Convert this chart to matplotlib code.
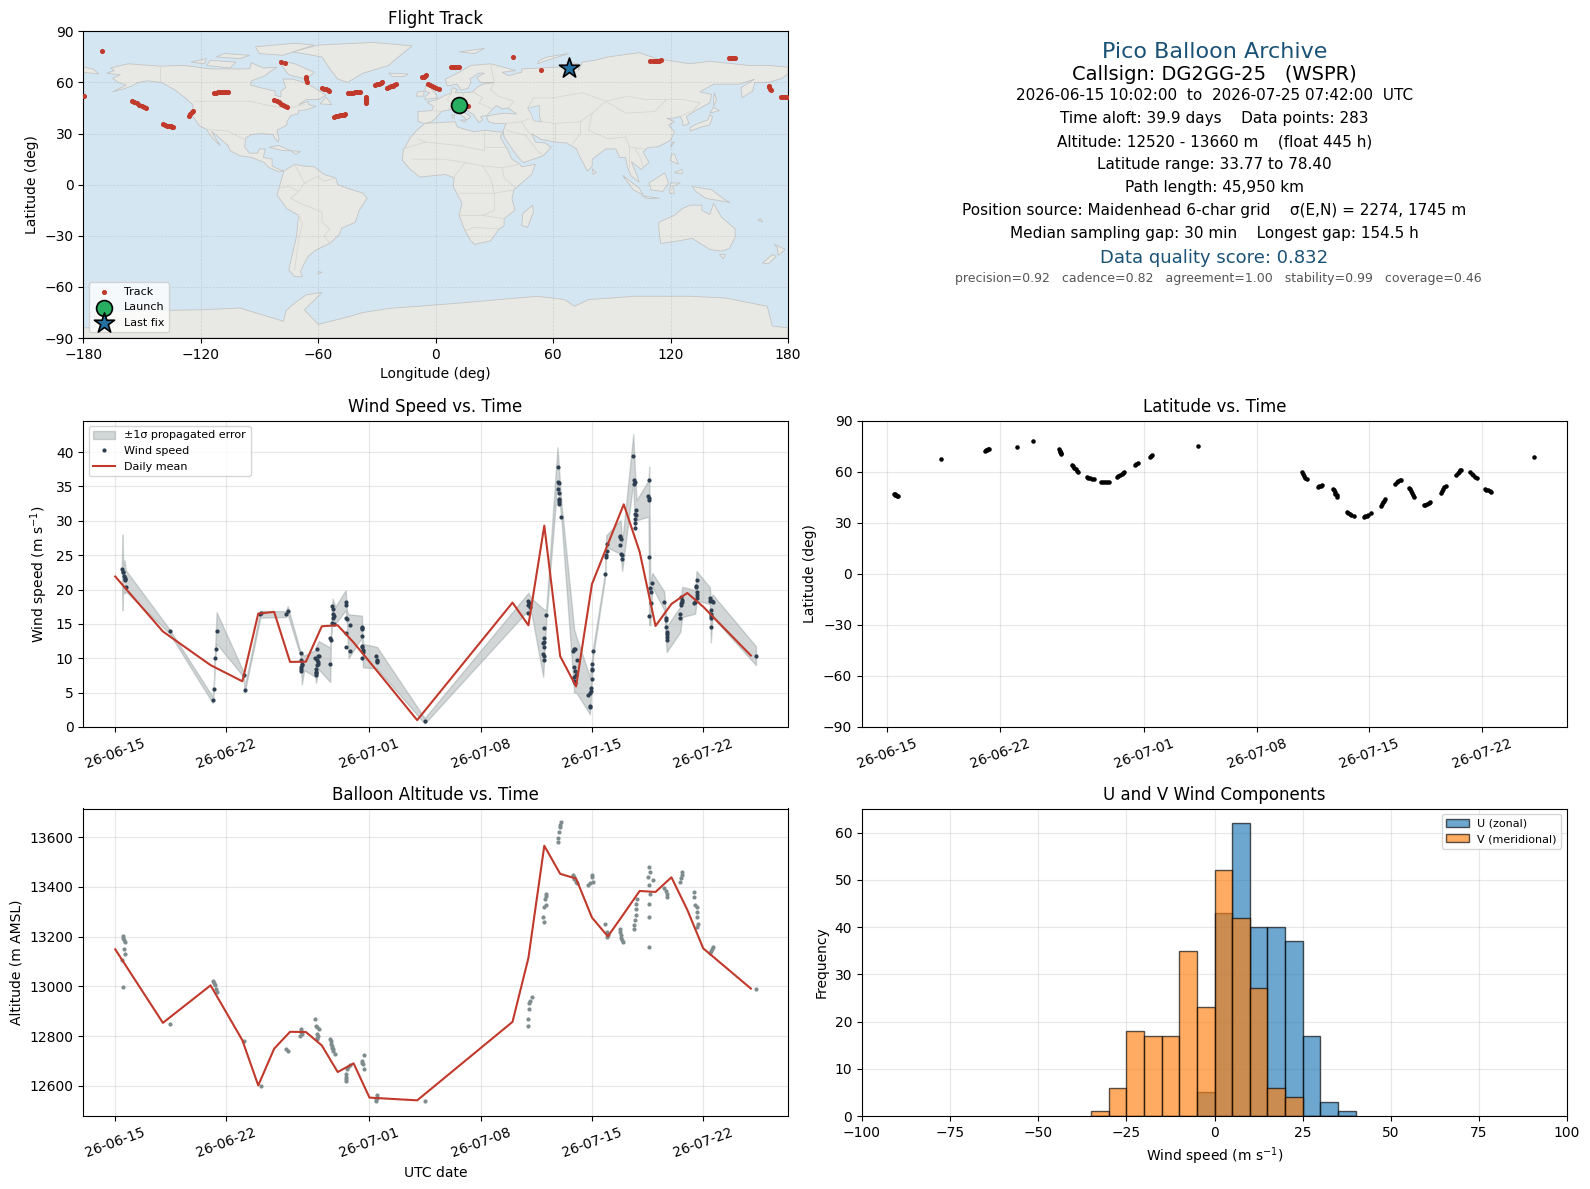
import datetime as dt

import matplotlib
matplotlib.use('Agg')
import matplotlib.dates as mdates
import matplotlib.pyplot as plt

# all times are days since 2026-06-15 00:00 UTC
day_bins = [0, 3, 6, 8, 9, 10, 11, 12, 13, 14, 15, 16, 19, 25, 26, 27, 28, 29, 30, 31, 32, 33, 34, 35, 36, 37, 40]
wind_daily = [21.9, 13.9, 9.0, 6.65, 16.5, 16.75, 9.47, 9.5, 14.66, 14.8, 12.3, 9.5, 1.0, 18.1, 14.8, 29.3, 10.3,
              5.9, 20.8, 26.6, 32.4, 25.5, 14.7, 17.9, 19.5, 17.5, 10.4]
alt_daily = [13149, 12853, 13004, 12783, 12601, 12749, 12817, 12816, 12762, 12655, 12690, 12552, 12541, 12857,
             13114, 13566, 13453, 13434, 13277, 13201, 13292, 13384, 13380, 13439, 13308, 13153, 12991]

wind_time = [0.42, 0.46, 0.50, 0.57, 0.59, 0.60, 0.62, 0.65, 3.42, 6.13, 6.21, 6.25, 6.31, 6.38, 8.08, 8.14, 9.13, 9.15,
             10.74, 10.85, 11.66, 11.72, 11.74, 11.76, 11.72, 11.70, 11.68,
             12.72, 12.78, 12.82, 12.6, 12.7, 12.74, 12.76, 12.72, 12.66, 12.62, 12.62, 12.64, 13.49, 13.53, 13.55,
             13.66, 13.72, 13.68, 13.76, 13.7, 13.66, 13.76, 14.5, 14.5, 14.55, 14.6, 14.75, 14.53, 14.55, 14.75,
             15.5, 15.5, 15.52, 15.5, 15.52, 15.55, 15.58, 15.6, 15.52, 16.42, 16.5, 16.5, 16.48, 19.47,
             25.99, 26.05, 26.0, 26.1, 26.0, 27.12, 27.0, 27.0, 26.95, 26.93, 26.96, 26.93, 26.96, 26.96,
             27.87, 27.87, 27.92, 27.87, 27.92, 27.94, 27.9, 27.94, 27.92, 28.05,
             28.82, 28.9, 28.95, 29.07, 28.9, 28.93, 28.98, 28.9, 28.85, 28.95,
             30.08, 30.0, 30.0, 30.0, 30.0, 29.97, 29.93, 29.9, 29.78, 29.85, 29.87,
             30.83, 30.9, 30.9, 30.93, 30.95, 31.75, 31.78, 31.8, 31.75, 31.82, 31.87, 31.9,
             32.6, 32.65, 32.68, 32.67, 32.8, 32.7, 32.75, 32.72, 32.7, 32.72,
             33.6, 33.54, 33.56, 33.6, 33.62, 33.8, 33.68, 33.7, 33.72, 33.62,
             34.55, 34.68, 34.65, 34.65, 34.72, 34.7, 34.72, 34.72, 35.6, 35.65, 35.66, 35.62, 35.6, 35.55, 35.55,
             36.63, 36.57, 36.55, 36.58, 36.6, 36.58, 36.5, 36.45,
             37.4, 37.45, 37.55, 37.6, 37.48, 37.48, 37.5, 37.5, 37.5, 40.32]
wind_speed = [23.0, 22.6, 22.5, 22.0, 21.7, 21.5, 21.4, 20.4, 13.9, 4.0, 5.6, 10.0, 11.4, 13.9, 7.6, 5.4, 16.5, 16.6,
              16.5, 16.9, 10.7, 9.7, 9.2, 9.0, 8.7, 8.5, 8.2,
              11.3, 10.4, 10.3, 10.0, 9.8, 9.5, 9.2, 9.0, 8.5, 8.0, 7.8, 7.6, 9.1, 13.0, 12.7,
              17.6, 17.2, 16.5, 16.1, 15.8, 15.1, 15.0, 18.2, 17.7, 15.8, 15.7, 14.8, 13.7, 11.6, 11.0,
              14.6, 14.4, 14.2, 13.3, 11.8, 11.6, 11.2, 10.9, 10.1, 10.4, 9.8, 9.6, 9.4, 0.9,
              18.35, 18.06, 17.7, 17.5, 16.65, 16.36, 14.47, 13.0, 12.4, 12.2, 11.7, 10.6, 10.3, 9.8,
              37.9, 35.6, 35.5, 34.6, 34.0, 33.2, 33.0, 32.8, 32.5, 30.6,
              11.0, 11.3, 11.4, 9.8, 8.7, 8.2, 7.5, 7.3, 6.65, 6.4,
              11.0, 9.1, 8.5, 8.35, 7.0, 5.7, 5.3, 5.0, 4.6, 3.06, 2.96,
              22.2, 24.7, 25.0, 25.6, 26.7, 27.8, 27.6, 27.3, 26.55, 25.2, 25.1, 24.5,
              39.5, 36.0, 35.7, 35.4, 31.6, 31.0, 30.8, 30.3, 29.7, 28.9,
              35.9, 33.6, 33.25, 33.0, 24.7, 21.0, 20.2, 19.6, 18.1, 16.1,
              18.25, 15.8, 15.5, 14.5, 13.8, 13.5, 13.1, 12.7, 18.9, 18.5, 18.2, 18.0, 17.7, 16.4, 15.8,
              21.4, 20.5, 20.3, 19.7, 19.2, 18.7, 18.2, 18.0,
              18.7, 18.4, 18.35, 18.2, 17.0, 16.5, 16.1, 15.8, 14.5, 10.4]

# outline of the +-1 sigma band
band_time = [0.42, 0.46, 0.50, 0.58, 0.67, 3.42, 6.13, 6.2, 6.27, 6.38, 8.08, 8.14, 9.13, 10.74, 10.85, 11.66, 11.74,
             11.89, 12.59, 12.63, 12.8, 13.53, 13.57, 13.68, 13.85, 14.5, 14.58, 14.68, 15.52, 15.59, 16.47, 19.47,
             25.99, 26.2, 26.93, 27.12, 27.83, 28.08, 28.88, 29.02, 29.87, 30.08, 30.83, 30.9, 31.8, 31.9, 32.6, 32.7,
             32.8, 33.56, 33.6, 33.67, 33.8, 34.55, 34.7, 35.55, 35.68, 36.5, 36.58, 37.42, 37.48, 37.58, 40.32]
band_low = [21.5, 17.0, 20.5, 19.4, 19.7, 13.6, 3.5, 5.3, 9.5, 12.1, 7.3, 5.0, 15.9, 16.0, 16.4, 10.3, 6.2,
            8.25, 7.3, 6.4, 8.4, 6.55, 12.4, 16.0, 15.0, 17.0, 15.0, 10.0, 13.0, 8.7, 8.5, 0.5,
            17.0, 16.5, 7.3, 15.5, 35.7, 30.1, 5.0, 5.0, 1.85, 10.4, 21.8, 26.2, 25.2, 22.7, 35.7, 29.1,
            30.1, 30.6, 14.8, 14.8, 20.4, 17.0, 10.9, 13.8, 16.0, 16.5, 18.4, 17.9, 12.3, 16.0, 9.0]
band_high = [24.0, 28.0, 23.5, 24.3, 22.8, 14.2, 4.4, 6.1, 10.5, 16.7, 8.0, 5.8, 16.9, 16.85, 17.6, 10.9, 10.7,
             10.4, 11.2, 11.65, 12.5, 11.55, 13.6, 18.7, 17.5, 19.9, 17.0, 16.4, 16.2, 12.1, 11.65, 1.3,
             19.5, 18.7, 17.2, 17.0, 40.7, 32.5, 14.2, 13.1, 7.3, 11.65, 22.6, 27.9, 30.1, 26.9, 42.6, 37.4,
             33.0, 35.9, 37.9, 20.9, 22.4, 19.7, 14.6, 17.5, 20.4, 19.9, 22.7, 20.3, 18.2, 19.3, 11.75]

alt_time = [0.46, 0.52, 0.56, 0.6, 0.58, 0.64, 0.42, 0.46, 3.42, 6.13, 6.2, 6.27, 6.33, 6.4, 8.12, 9.15, 10.74, 10.85,
            11.7, 11.66, 11.72, 11.78, 11.64, 12.6, 12.66, 12.72, 12.8, 12.7, 12.74, 12.72, 12.7,
            13.5, 13.56, 13.6, 13.66, 13.62, 13.7, 13.72, 13.85, 14.75, 14.65, 14.6, 14.55, 14.52, 14.5, 14.53,
            15.63, 15.5, 15.52, 15.6, 15.63, 16.5, 16.48, 16.44, 16.42, 19.47,
            26.2, 26.1, 26.03, 26.05, 25.99, 25.99, 27.12, 27.08, 27.02, 27.1, 27.0, 26.93, 26.95,
            28.02, 27.97, 27.96, 27.92, 27.88, 27.87, 28.82, 28.85, 28.9, 29.0, 29.07, 30.02, 30.0, 30.08, 29.9, 29.78,
            30.83, 30.95, 30.98, 30.92, 31.75, 31.78, 31.82, 31.85, 31.9, 31.96,
            32.64, 32.66, 32.7, 32.74, 32.78, 32.78, 32.85, 33.6, 33.66, 33.54, 33.81, 33.56, 33.68, 33.6, 33.62, 33.62,
            34.55, 34.66, 34.72, 34.7, 35.68, 35.65, 35.6, 35.53,
            36.43, 36.45, 36.5, 36.58, 36.6, 36.63, 36.68, 36.58, 37.63, 37.55, 37.48, 37.4, 40.32]
alt_value = [13201, 13194, 13185, 13177, 13150, 13130, 13107, 12998, 12849, 13020, 13014, 13007, 12991, 12977, 12781, 12600, 12749, 12741,
             12829, 12822, 12817, 12810, 12802, 12869, 12842, 12836, 12829, 12809, 12802, 12793, 12786,
             12789, 12779, 12766, 12759, 12753, 12746, 12739, 12729, 12682, 12675, 12668, 12646, 12636, 12625, 12619,
             12722, 12699, 12692, 12686, 12668, 12561, 12552, 12545, 12538, 12540,
             12957, 12940, 12933, 12909, 12869, 12840, 13371, 13362, 13352, 13328, 13319, 13279, 13259,
             13660, 13649, 13640, 13623, 13599, 13580, 13449, 13439, 13431, 13422, 13415, 13449, 13439, 13422, 13415, 13406,
             13251, 13217, 13208, 13198, 13230, 13217, 13205, 13194, 13185, 13177,
             13230, 13248, 13268, 13288, 13311, 13331, 13352, 13479, 13459, 13439, 13429, 13409, 13371, 13331, 13279, 13158,
             13395, 13384, 13372, 13359, 13462, 13449, 13435, 13422,
             13379, 13359, 13328, 13319, 13299, 13279, 13251, 13238, 13158, 13150, 13143, 13134, 12991]

lat_time = [0.42, 0.46, 0.5, 0.55, 0.6, 0.65, 3.36, 6.05, 6.13, 6.2, 6.28, 6.35, 8.05, 9.05,
            10.68, 10.72, 10.76, 10.8, 10.83, 11.48, 11.56, 11.64, 11.72, 11.8, 11.9,
            12.42, 12.52, 12.62, 12.72, 12.85, 13.3, 13.42, 13.55, 13.68, 13.8,
            14.28, 14.38, 14.48, 14.58, 14.68, 14.75, 15.42, 15.5, 15.58, 16.38, 16.43, 16.48, 19.37,
            25.82, 25.88, 25.95, 26.03, 26.12, 26.82, 26.9, 26.98, 27.06,
            27.75, 27.8, 27.85, 27.9, 27.97, 28.02, 28.62, 28.7, 28.78, 28.88, 29.05,
            29.65, 29.75, 29.85, 29.95, 30.1, 30.72, 30.78, 30.84, 30.9, 30.97,
            31.6, 31.7, 31.8, 31.9, 31.98, 32.5, 32.56, 32.62, 32.68, 32.74, 32.8,
            33.42, 33.5, 33.6, 33.7, 33.78, 34.45, 34.52, 34.6, 34.68, 34.78,
            35.42, 35.5, 35.58, 35.66, 35.7, 36.3, 36.38, 36.47, 36.56, 36.7,
            37.2, 37.3, 37.4, 37.5, 37.6, 40.27]
lat_value = [47.0, 46.8, 46.5, 46.1, 45.9, 45.7, 67.6, 71.9, 72.4, 72.7, 73.0, 73.3, 74.7, 78.2,
             73.0, 72.2, 71.5, 70.8, 70.2, 63.8, 63.0, 62.2, 61.3, 60.6, 60.0,
             57.0, 56.5, 56.0, 55.8, 55.4, 54.0, 53.8, 53.8, 53.8, 54.0,
             56.8, 57.4, 58.0, 58.6, 59.2, 59.6, 63.8, 64.3, 65.0, 68.4, 69.2, 69.9, 75.2,
             59.5, 58.5, 57.5, 56.4, 55.4, 51.0, 51.4, 51.8, 52.2,
             50.0, 49.0, 48.0, 47.0, 46.0, 45.0, 36.0, 35.5, 35.0, 34.5, 33.9,
             33.4, 33.7, 34.2, 34.7, 35.6, 39.8, 41.0, 42.0, 43.0, 43.8,
             53.0, 53.7, 54.3, 54.9, 55.2, 50.5, 49.5, 48.5, 47.5, 46.2, 45.0,
             40.2, 40.5, 40.8, 41.4, 42.0, 47.6, 48.7, 49.8, 50.7, 51.6,
             58.0, 59.0, 59.9, 60.8, 61.0, 59.5, 58.8, 57.8, 57.0, 56.0,
             50.0, 49.4, 48.9, 48.4, 47.8, 68.8]

track_lon = [-170.6, -179.5, 176.5, 177.5, 178.5, 179.5,
             -155, -153.8, -152.6, -151.4, -150.2, -149, -148, -139, -138, -137, -136, -135, -134.5, -134,
             -126, -125.3, -124.6, -124, -113, -112, -111, -110, -109, -108, -107, -106,
             -82.3, -81, -80, -79, -78, -77, -76, -78.8, -77, -66.3, -66, -65.7, -58, -57, -56, -55, -54.2,
             -45, -44, -43, -42, -41, -40, -39, -38.6, -52, -51, -50, -49, -48, -47, -46.5,
             -35.7, -35.6, -35.6, -35.7, -35.7, -31, -30, -29, -28, -27.3, -25, -24, -23, -22, -21, -20,
             -6.7, -6, -5.3, -4.7, 8, 9, 10, 11, 12, -3.9, -2.8, -1.8, -0.8, 0.3, 1.5, 14.5, 16.5, 39.4, 54,
             109.7, 111, 112, 113, 114, 115, 150, 151, 152, 152.8, 170.2, 170.5, 170.8, 171.2]
track_lat = [78.3, 51.9, 51.3, 51.3, 51.3, 51.3,
             49.3, 48.6, 47.8, 47, 46.3, 45.6, 44.9, 35.5, 35, 34.4, 34.6, 34.6, 34, 33.8,
             40.5, 41.5, 42.5, 43.5, 53.7, 54.1, 54.4, 54.5, 54.6, 54.6, 54.6, 54.6,
             50, 49.2, 48.3, 47.5, 46.7, 46, 45.4, 71.8, 71.2, 63, 61.8, 60.5, 56.8, 56.4, 56, 55.5, 55,
             53.8, 54, 54, 54.1, 54.2, 54.2, 54.2, 54.2, 40, 40.3, 40.6, 40.8, 41, 41.2, 41.3,
             51.3, 50.5, 49.8, 49, 48.2, 58.5, 59, 59.4, 59.8, 60, 57, 57.4, 57.8, 58.2, 58.6, 59,
             63, 63.5, 64, 64.4, 68.9, 68.9, 68.9, 68.9, 68.9, 59, 58.4, 57.8, 57.3, 56.6, 56, 47, 46.3, 74.8, 67.1,
             72.4, 72.5, 72.7, 72.8, 72.9, 73, 74.2, 74.2, 74.2, 74.2, 58.2, 57.3, 56.4, 55.6]
launch_lon, launch_lat = [12.0], [46.6]
last_lon, last_lat = [68.0], [68.7]

# rough coastlines, (lon, lat)
north_america = [(-168, 65.5), (-164, 67), (-166, 68.5), (-157, 71), (-141, 69.6), (-128, 70), (-115, 68), (-108, 68),
                 (-95, 68), (-94, 71.5), (-88, 68.5), (-81, 69), (-85, 66), (-87, 64), (-94, 61), (-94.5, 58.5),
                 (-88, 56.5), (-82, 55), (-82, 52.5), (-79, 51.5), (-79, 55), (-76.5, 57), (-78, 62), (-73, 62),
                 (-70, 61), (-65, 59), (-62, 57), (-56, 52.5), (-60, 50), (-66, 50), (-70, 47), (-65, 49), (-65, 47),
                 (-61, 46), (-66, 44), (-70, 43.5), (-70, 41.7), (-74, 40.5), (-76, 37), (-76, 35), (-81, 32), (-80, 27),
                 (-80.5, 25.2), (-82, 27), (-83, 29.5), (-89, 30), (-94, 29.5), (-97, 27.5), (-97.5, 22), (-95, 18.5),
                 (-91, 18.5), (-90, 21), (-87, 21), (-88, 16), (-83.5, 15), (-83.5, 11), (-80, 9), (-77.5, 8),
                 (-80, 7.5), (-85, 10), (-87.5, 13), (-94, 16), (-100, 17), (-105, 20), (-106, 23), (-112, 29),
                 (-114.5, 31.5), (-112, 26.5), (-110, 23), (-112, 25), (-115, 29), (-117, 32.5), (-120.5, 34.5),
                 (-124, 40), (-124, 47), (-128, 51), (-133, 55.5), (-140, 60), (-147, 61), (-152, 60), (-155, 58),
                 (-160, 56), (-165, 54.5), (-158, 58.5), (-162, 60), (-165, 62.5), (-161, 64.5)]
south_america = [(-77.5, 8), (-72, 12), (-68, 11), (-62, 10.5), (-57, 6), (-51, 4), (-50, 0), (-44, -2.5), (-37, -5),
                 (-35, -8), (-39, -15), (-41, -22), (-48, -25.5), (-49, -29), (-54, -34.5), (-57, -36), (-62, -39),
                 (-65, -42), (-67, -46), (-69, -51), (-68, -54), (-72, -54), (-75, -50), (-73, -40), (-71, -30),
                 (-70, -18), (-76, -14), (-81, -6), (-80, -2), (-79, 2)]
eurasia = [(-9, 37), (-9, 43), (-2, 43.5), (-1, 46), (-4.5, 48.5), (1, 50), (4, 52), (8, 54), (8.5, 57), (11, 56),
           (10, 54), (14, 54), (19, 54.5), (21, 57), (24, 59), (30, 60), (23, 60), (21, 63), (25, 65.5), (22, 65.5),
           (17.5, 62), (18, 60), (16.5, 56.5), (13, 55.5), (11, 59), (6, 58), (5, 62), (12, 66), (18, 70), (28, 71),
           (41, 67), (34, 66), (37, 64), (44, 66), (44, 68), (54, 68.5), (60, 69), (68, 69), (67, 72), (73, 71), (73, 67),
           (75, 72), (81, 73), (88, 75), (104, 77.5), (113, 74), (130, 71), (140, 72.5), (160, 70), (170, 70), (180, 69),
           (180, 65), (177, 62.5), (170, 60), (163, 60), (162, 55), (156.5, 51), (156, 57), (163, 62), (155, 59),
           (142, 59), (135, 54.5), (141, 53), (140, 48), (132, 43), (128, 40), (129.5, 36), (126.5, 34.5), (126, 37.5),
           (125, 40), (121, 39), (118, 39), (122, 37), (119, 35), (122, 31), (120, 26), (114, 22.5), (108, 21.5),
           (106, 19), (109, 13), (105, 9), (100, 13.5), (103, 5), (104, 1.5), (100, 5), (98, 10), (97, 16), (94, 16),
           (92, 21), (87, 21), (80, 15), (80, 11), (77.5, 8), (73, 18), (72, 21), (67, 24.5), (61, 25), (57, 26),
           (54, 26.5), (49, 30), (51, 25), (56, 24.5), (59, 22), (55, 17), (45, 13), (43, 15), (39, 21), (35, 28),
           (34.5, 31.5), (36, 36), (30, 36), (27, 37), (26, 40), (29, 41), (35, 42), (41.5, 41.5), (37, 45), (34, 44.5),
           (31, 46.5), (28, 43), (26.5, 40.8), (23, 40), (24, 38), (22, 36.5), (19.5, 41), (13.5, 45.5), (12.5, 44),
           (18, 40), (16, 38), (12, 42), (9, 44.5), (3, 43), (0, 39), (-2, 37), (-5.5, 36)]
africa = [(-5.5, 36), (10, 37), (11, 34), (15, 32.5), (20, 31), (25, 32), (32, 31), (34.5, 31), (33, 28), (35, 24),
          (37, 20), (39, 15), (43, 12), (44, 10.5), (51, 12), (49, 6), (40, -3), (39, -8), (40.5, -15), (35, -20),
          (35, -24), (32.5, -26), (28, -33), (20, -35), (18, -33), (15, -27), (12, -18), (13.5, -11), (9, -1), (9.5, 4),
          (5, 6), (-4, 5), (-8, 4.5), (-13, 9), (-17, 14.5), (-16.5, 20), (-13, 27.5), (-9.5, 32)]
australia = [(114, -22), (122, -18), (126, -14), (130, -12), (136, -12), (136, -15), (140, -17.5), (142, -11), (146, -19),
             (153, -26), (153, -31), (150, -37.5), (146, -39), (140, -38), (136, -35), (131, -31.5), (124, -33),
             (115, -34.5), (114, -26)]
greenland = [(-73, 78), (-60, 82), (-32, 83.5), (-12, 81.5), (-20, 74), (-24, 70), (-37, 65.5), (-45, 60), (-50, 62),
             (-54, 68), (-58, 75)]
antarctica = [(-180, -84), (-174, -84), (-174, -74.5), (-118.6, -73.4), (-100, -72.4), (-77.7, -80.2), (-76.5, -74),
              (-72, -69.5), (-66, -64.6), (-58, -63.2), (-62.5, -68.5), (-67, -73.4), (-60, -82), (-46, -78), (-37, -75),
              (-23, -72.5), (-9, -71.4), (12, -69.5), (52, -65.5), (66, -67.5), (71, -71.4), (78, -67.5), (101.5, -65.5),
              (130, -65.5), (148, -66.5), (169.4, -71.4), (172, -83), (180, -84), (180, -90), (-180, -90)]
islands = [
    [(-80, 73), (-72, 71), (-62, 66), (-66, 62), (-75, 64.5), (-78, 69)],
    [(-117, 70), (-105, 68.5), (-102, 72), (-115, 73)],
    [(-90, 77), (-78, 76), (-62, 82), (-72, 83), (-92, 81)],
    [(-125, 72), (-117, 74), (-118, 71)],
    [(-112, 75), (-100, 74), (-95, 76), (-108, 77)],
    [(-59, 47.5), (-53, 47), (-56, 51.5)],
    [(-24, 65.5), (-14, 65), (-16, 63.5), (-22, 63.5)],
    [(-5.5, 50), (1, 51), (0, 53.5), (-2, 56), (-2, 57.5), (-5, 58.5), (-5.5, 55), (-3, 54), (-5, 52)],
    [(-10, 52), (-6, 52), (-6, 55), (-9, 54.5)],
    [(130, 31.5), (136, 34), (140, 35), (141.5, 40), (140, 41), (139, 38), (133, 35.5), (130, 33.5)],
    [(140, 42), (145, 43.5), (142, 45.5)],
    [(142, 46), (143.5, 50), (142.5, 54), (142, 50)],
    [(49.5, -12), (50, -16), (47, -25), (44, -24), (44.5, -17)],
    [(173, -35), (178.5, -38), (175, -41.5), (174.5, -37)],
    [(172, -41), (174, -42), (170, -46.5), (167, -46)],
    [(95.5, 5.5), (104, -2), (106, -6), (101, -3)],
    [(105.5, -6.5), (114.5, -8), (108, -8)],
    [(109, 1), (117, 7), (119, 1), (116, -4), (110, -3)],
    [(120, 1), (125, 1), (121, -1), (122, -5), (119.5, -5)],
    [(131, -1), (141, -3), (148, -9), (150.5, -10.5), (143, -9), (138, -8), (133, -4)],
    [(120.5, 18), (122, 18), (124, 12), (120, 14)],
    [(122, 7), (126, 9), (126, 6.5)],
    [(120, 22), (122, 25), (121, 25)],
    [(80, 9.5), (82, 7), (80.5, 6)],
    [(-85, 22), (-80, 23), (-74, 20), (-78, 20)],
    [(-74, 20), (-69, 19.5), (-71.5, 18)],
    [(145, -41), (148, -41), (147, -43.5)],
    [(52, 71), (57, 73), (68, 77), (57, 75), (53, 73)],
    [(12, 78), (25, 80), (20, 77)],
    [(-180, 66), (-172, 65), (-175, 68), (-180, 69)],
    [(12.5, 38), (15.5, 38), (15, 36.8)],
    [(8.3, 41), (9.7, 41), (9.5, 39), (8.5, 39)],
    [(-60, -51), (-58, -51.5), (-60, -52.2)],
    [(166, -20), (167, -22), (164.5, -20.5)],
]
caspian = [(47, 45), (53, 46.5), (53, 40), (54, 37), (50, 37.5), (49, 41)]
borders = [
    [(-141, 69.6), (-141, 60)],
    [(-123, 49), (-95, 49), (-83, 46), (-75, 45), (-67, 47)],
    [(-117, 32.5), (-106, 31.5), (-97, 26)],
    [(-72, 12), (-67, 1), (-70, -4), (-74, -8), (-69, -11), (-58, -16), (-58, -22), (-54, -26), (-57, -30), (-54, -34.5)],
    [(-70, -18), (-68, -23), (-70, -33), (-72, -50)],
    [(-80, -2), (-75, -1), (-70, -4)],
    [(-67, 1), (-60, 5), (-57, 2), (-51, 4)],
    [(-9, 27), (-5, 25), (12, 23), (25, 20), (25, 32)],
    [(25, 22), (37, 22)],
    [(-17, 21), (-5, 25)],
    [(-12, 15), (4, 15), (15, 13), (24, 11), (34, 10), (43, 12)],
    [(9, 4), (15, 13)],
    [(12, -5), (30, -5), (40, -3)],
    [(12, -18), (24, -18), (35, -20)],
    [(15, -27), (20, -25), (32, -26)],
    [(24, 11), (28, 4), (30, -5), (30, -15), (24, -18)],
    [(34, 10), (35, 4), (41, -2)],
    [(8, 54), (6, 50), (8, 48), (7, 44)],
    [(14, 54), (15, 48), (13.5, 45.5)],
    [(-2, 43.5), (3, 43)],
    [(19, 54.5), (24, 51), (22, 48), (28, 45)],
    [(28, 71), (30, 60)],
    [(30, 60), (28, 56), (32, 52), (40, 49), (37, 45)],
    [(47, 45), (50, 51), (60, 51), (75, 54), (87, 49), (98, 52), (107, 50), (118, 50), (127, 50), (135, 48), (131, 43)],
    [(87, 49), (80, 42), (74, 37), (61, 36), (54, 37)],
    [(80, 42), (78, 32), (88, 27), (97, 28), (99, 22), (107, 21)],
    [(74, 37), (74, 30), (70, 24)],
    [(61, 36), (61, 25)],
    [(44, 37), (46, 33), (48, 30)],
    [(36, 36), (44, 37), (48, 39)],
    [(36, 32), (46, 29), (52, 20), (55, 17)],
    [(99, 22), (99, 10)],
    [(102, 21), (105, 15), (106, 10)],
    [(118, 50), (112, 43), (97, 42), (87, 49)],
    [(125, 40), (130, 43)],
]
land_shapes = [north_america, south_america, eurasia, africa, australia, greenland, antarctica] + islands

date_ticks = [dt.datetime(2026, 6, 15), dt.datetime(2026, 6, 22), dt.datetime(2026, 7, 1),
              dt.datetime(2026, 7, 8), dt.datetime(2026, 7, 15), dt.datetime(2026, 7, 22)]

hist_edges = [-35, -30, -25, -20, -15, -10, -5, 0, 5, 10, 15, 20, 25, 30, 35, 40]
u_counts = [0, 0, 0, 0, 0, 0, 5, 43, 62, 40, 40, 37, 17, 3, 1]
v_counts = [1, 6, 18, 17, 17, 35, 23, 52, 42, 27, 6, 4, 0, 0, 0]

info_lines = ['2026-06-15 10:02:00  to  2026-07-25 07:42:00  UTC',
              'Time aloft: 39.9 days    Data points: 283',
              'Altitude: 12520 - 13660 m    (float 445 h)',
              'Latitude range: 33.77 to 78.40',
              'Path length: 45,950 km',
              'Position source: Maidenhead 6-char grid    \u03c3(E,N) = 2274, 1745 m',
              'Median sampling gap: 30 min    Longest gap: 154.5 h']
info_y = [95.3, 118.2, 141.6, 164.3, 187.6, 210.5, 233.6]

RED = '#c0392b'
NAVY = '#2c3e50'
GREY = '#7f8c8d'
TITLE_BLUE = '#1a5276'
W, H = 1590, 1189


def to_dates(days):
    start = mdates.date2num(dt.datetime(2026, 6, 15))
    return [start + d for d in days]


def make_axes(left, right, top, bottom):
    return fig.add_axes([left / W, 1 - bottom / H, (right - left) / W, (bottom - top) / H])


def date_axis(ax):
    ax.set_xticks(date_ticks)
    ax.xaxis.set_major_formatter(mdates.DateFormatter('%y-%m-%d'))
    ax.tick_params(axis='x', rotation=20)
    ax.grid(True, alpha=0.3)


fig = plt.figure(figsize=(15.9, 11.89), dpi=100)
L1, R1, L2, R2 = 83.2, 788, 862, 1567

# flight track map
ax = make_axes(L1, R1, 31.4, 338)
ax.set_facecolor('#d4e6f1')
for shape in land_shapes:
    xs, ys = zip(*shape)
    ax.fill(xs, ys, facecolor='#e8e8e4', edgecolor='#c4c4c4', linewidth=0.6, zorder=1)
xs, ys = zip(*caspian)
ax.fill(xs, ys, facecolor='#d4e6f1', edgecolor='#c4c4c4', linewidth=0.5, zorder=1.1)
for line in borders:
    xs, ys = zip(*line)
    ax.plot(xs, ys, color='#d6d6d2', linewidth=0.6, zorder=1.2)
ax.scatter(track_lon, track_lat, s=7, color=RED, zorder=3, label='Track')
ax.scatter(launch_lon, launch_lat, s=130, color='#27ae60', edgecolor='black', linewidth=1.2, zorder=4, label='Launch')
ax.scatter(last_lon, last_lat, s=230, marker='*', color='#2471a3', edgecolor='black', linewidth=1.2, zorder=4, label='Last fix')
ax.set_xlim(-180, 180)
ax.set_ylim(-90, 90)
ax.set_xticks(range(-180, 181, 60))
ax.set_yticks(range(-90, 91, 30))
ax.set_xticklabels(['\u2212180', '\u2212120', '\u221260', '0', '60', '120', '180'])
ax.grid(True, alpha=0.25, linestyle='--', linewidth=0.5, color='#888888')
ax.set_title('Flight Track', pad=5.5)
ax.set_xlabel('Longitude (deg)')
ax.set_ylabel('Latitude (deg)')
ax.legend(loc='lower left', fontsize=8)

# summary text
cx = (L2 + R2) / 2 / W
fig.text(cx, 1 - 51.7 / H, 'Pico Balloon Archive', fontsize=16, color=TITLE_BLUE, ha='center', va='center')
fig.text(cx, 1 - 74 / H, 'Callsign: DG2GG-25   (WSPR)', fontsize=14, ha='center', va='center')
for txt, y in zip(info_lines, info_y):
    fig.text(cx, 1 - y / H, txt, fontsize=11, ha='center', va='center')
fig.text(cx, 1 - 257.6 / H, 'Data quality score: 0.832', fontsize=13, color=TITLE_BLUE, ha='center', va='center')
fig.text(cx + 4 / W, 1 - 278.5 / H, 'precision=0.92   cadence=0.82   agreement=1.00   stability=0.99   coverage=0.46',
         fontsize=9, color='#555555', ha='center', va='center')

# wind speed
ax = make_axes(L1, R1, 420.5, 727)
ax.fill_between(to_dates(band_time), band_low, band_high, color=GREY, alpha=0.35, label='\u00b11\u03c3 propagated error')
ax.plot(to_dates(wind_time), wind_speed, '.', color=NAVY, markersize=4, label='Wind speed')
ax.plot(to_dates(day_bins), wind_daily, color=RED, linewidth=1.5, label='Daily mean')
date_axis(ax)
ax.set_ylim(0, 44.6)
ax.set_title('Wind Speed vs. Time')
ax.set_ylabel('Wind speed (m s$^{-1}$)')
ax.legend(loc='upper left', fontsize=8)

# latitude
ax = make_axes(L2, R2, 420.5, 727)
ax.plot(to_dates(lat_time), lat_value, '.', color='black', markersize=4.5)
ax.set_xlim(to_dates([0.418 - 1.995, 40.32 + 1.995]))
date_axis(ax)
ax.set_ylim(-90, 90)
ax.set_yticks(range(-90, 91, 30))
ax.set_title('Latitude vs. Time')
ax.set_ylabel('Latitude (deg)')

# altitude
ax = make_axes(L1, R1, 808.5, 1116)
ax.plot(to_dates(alt_time), alt_value, '.', color=GREY, markersize=4)
ax.plot(to_dates(day_bins), alt_daily, color=RED, linewidth=1.5)
date_axis(ax)
ax.set_ylim(12478, 13716)
ax.set_title('Balloon Altitude vs. Time')
ax.set_xlabel('UTC date')
ax.set_ylabel('Altitude (m AMSL)')

# u / v histogram
ax = make_axes(L2, R2, 808.5, 1116)
ax.hist(hist_edges[:-1], bins=hist_edges, weights=u_counts, alpha=0.65, edgecolor='black', label='U (zonal)')
ax.hist(hist_edges[:-1], bins=hist_edges, weights=v_counts, alpha=0.65, edgecolor='black', label='V (meridional)')
ax.set_xlim(-100, 100)
ax.set_xticks(range(-100, 101, 25))
ax.grid(True, alpha=0.3)
ax.set_axisbelow(True)
ax.set_title('U and V Wind Components')
ax.set_xlabel('Wind speed (m s$^{-1}$)')
ax.set_ylabel('Frequency')
ax.legend(loc='upper right', fontsize=8)

fig.savefig('out.png', dpi=100)
